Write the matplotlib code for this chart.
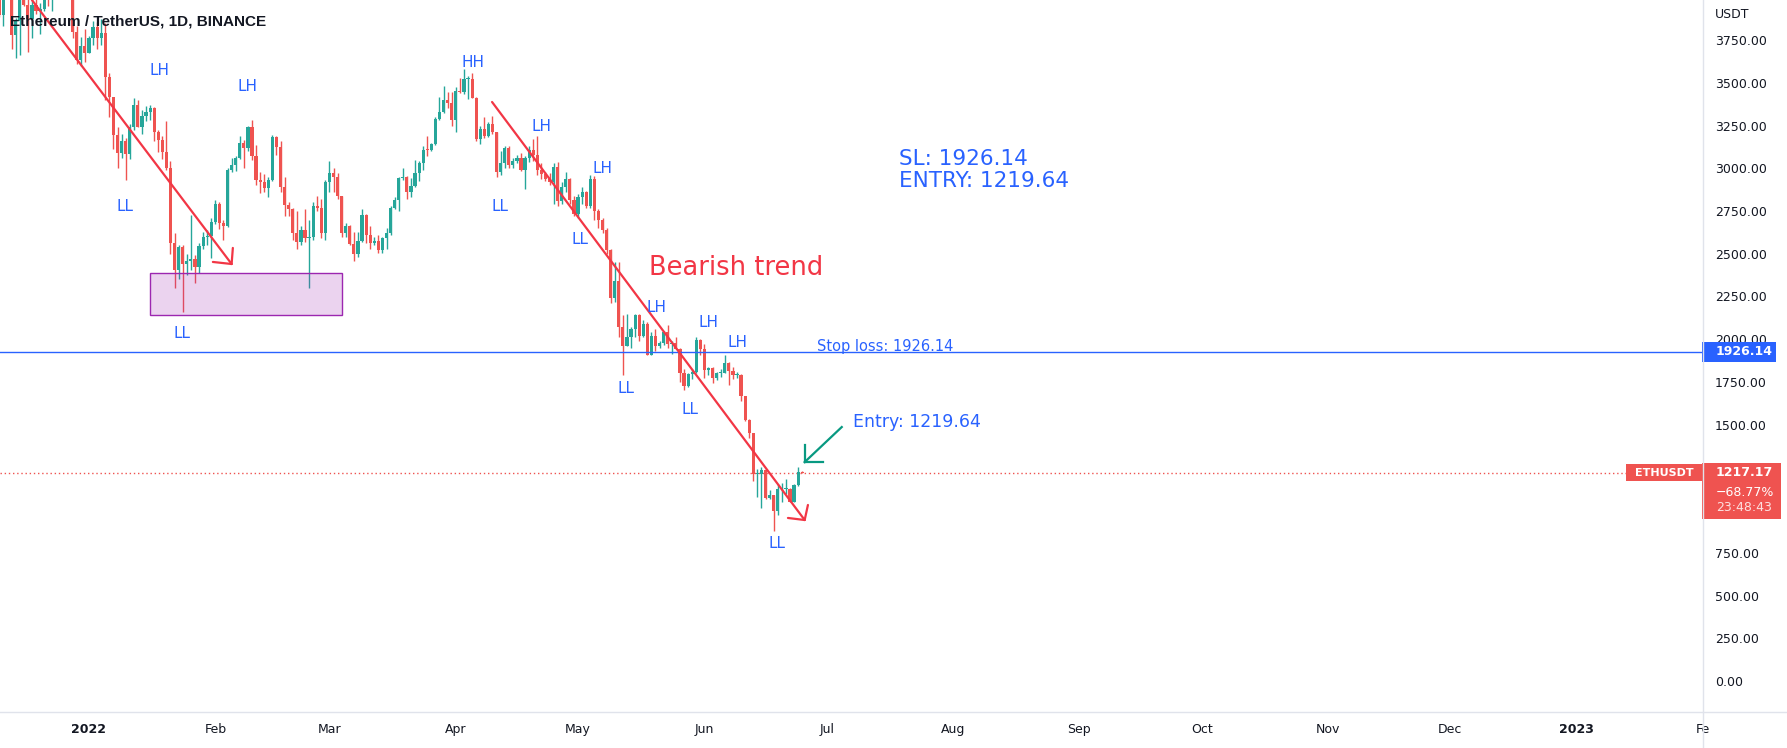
import numpy as np
import pandas as pd
import matplotlib
matplotlib.use('Agg')
import matplotlib.pyplot as plt
import matplotlib.dates as mdates
import matplotlib.transforms as mtransforms
from matplotlib.patches import Rectangle
from matplotlib.lines import Line2D

W, H = 1787, 748
UP = '#26a69a'
DOWN = '#ef5350'
BLUE = '#2962ff'
RED = '#f23645'
GREEN = '#089981'
TEXT = '#131722'
SEP = '#e0e3eb'

# ---- daily ETHUSDT candles, 2021-12-09 .. 2022-06-25 ----
days = pd.date_range('2021-12-09', '2022-06-25', freq='D')

opens = [
    # Dec
    4436, 4110, 3895, 4083, 4130, 3781, 3860, 4016, 3958, 3876, 3955, 3921, 3934, 4020, 3983, 4110, 4045, 4095, 4067, 4040, 3795, 3632, 3713,
    # Jan
    3677, 3765, 3829, 3761, 3794, 3537, 3417, 3193, 3091, 3157, 3083, 3239, 3373, 3243, 3307, 3331, 3352, 3212, 3163, 3095, 3000, 2561, 2407, 2539, 2440, 2456, 2467, 2425, 2546, 2600, 2605,
    # Feb
    2688, 2791, 2678, 2660, 2990, 3021, 3060, 3150, 3120, 3240, 3070, 2930, 2920, 2885, 2930, 3185, 3125, 2890, 2785, 2760, 2620, 2570, 2640, 2590, 2600, 2780, 2770, 2620,
    # Mar
    2920, 2970, 2950, 2835, 2620, 2665, 2555, 2500, 2575, 2725, 2610, 2560, 2575, 2520, 2590, 2620, 2770, 2815, 2945, 2950, 2860, 2895, 2970, 3030, 3110, 3105, 3145, 3290, 3330, 3400, 3385,
    # Apr
    3280, 3455, 3445, 3520, 3520, 3410, 3170, 3230, 3190, 3260, 3210, 2980, 3030, 3120, 3020, 3040, 3060, 2990, 3060, 3105, 3080, 2990, 2965, 2940, 2920, 3010, 2810, 2890, 2940, 2815,
    # May
    2730, 2830, 2860, 2780, 2940, 2750, 2700, 2640, 2520, 2240, 2340, 2070, 1960, 2010, 2060, 2140, 2020, 2090, 1910, 2020, 1960, 1975, 2040, 1970, 1980, 1945, 1800, 1725, 1795, 1810, 1995,
    # Jun
    1940, 1820, 1830, 1775, 1805, 1805, 1860, 1815, 1790, 1790, 1665, 1530, 1450, 1210, 1210, 1235, 1070, 1090, 995, 1125, 1125, 1125, 1050, 1145, 1225,
]
highs = [
    4490, 4220, 4100, 4160, 4140, 3880, 4090, 4109, 3998, 3990, 4030, 3965, 4060, 4050, 4140, 4144, 4130, 4140, 4126, 4050, 3830, 3770, 3815,
    3776, 3860, 3855, 3876, 3850, 3560, 3420, 3240, 3200, 3180, 3260, 3412, 3400, 3340, 3365, 3370, 3357, 3226, 3188, 3275, 3045, 2619, 2550, 2550, 2500, 2724, 2490, 2560, 2625, 2640, 2708,
    2815, 2805, 2700, 3000, 3060, 3070, 3188, 3165, 3245, 3283, 3134, 2978, 2965, 2950, 3195, 3190, 3160, 2950, 2800, 2770, 2750, 2660, 2760, 2700, 2800, 2840, 2820, 2930,
    3040, 3000, 2970, 2840, 2680, 2670, 2630, 2630, 2760, 2730, 2660, 2600, 2610, 2600, 2650, 2780, 2830, 2950, 3000, 2955, 2945, 3050, 3040, 3130, 3190, 3150, 3300, 3420, 3480, 3445, 3445,
    3475, 3530, 3580, 3540, 3555, 3415, 3245, 3300, 3270, 3305, 3215, 3100, 3130, 3130, 3060, 3080, 3090, 3070, 3130, 3170, 3190, 3030, 2980, 2970, 3030, 3035, 2920, 2980, 2945, 2840,
    2850, 2890, 2870, 2960, 2955, 2760, 2710, 2650, 2530, 2450, 2450, 2140, 2145, 2070, 2150, 2145, 2110, 2100, 2040, 2060, 1990, 2050, 2085, 1990, 2015, 1950, 1825, 1805, 1825, 2015, 2000,
    1970, 1840, 1840, 1810, 1825, 1910, 1865, 1835, 1810, 1795, 1670, 1535, 1450, 1240, 1250, 1240, 1120, 1090, 1150, 1160, 1180, 1130, 1150, 1250, 1228,
]
lows = [
    4100, 3886, 3835, 4030, 3700, 3643, 3665, 3950, 3680, 3760, 3900, 3785, 3920, 3950, 3920, 4032, 4030, 4012, 4030, 3760, 3610, 3600, 3622,
    3676, 3722, 3700, 3723, 3400, 3300, 3112, 3000, 3060, 2930, 3057, 3223, 3240, 3200, 3274, 3283, 3157, 3093, 3055, 2992, 2500, 2300, 2350, 2160, 2375, 2403, 2330, 2390, 2530, 2550, 2475,
    2673, 2645, 2580, 2655, 2980, 2985, 3052, 3000, 3100, 3050, 2900, 2858, 2860, 2830, 2925, 3077, 2860, 2720, 2720, 2580, 2525, 2550, 2570, 2300, 2580, 2750, 2590, 2580,
    2860, 2860, 2820, 2600, 2600, 2550, 2460, 2480, 2570, 2560, 2525, 2550, 2505, 2505, 2530, 2610, 2760, 2750, 2930, 2820, 2830, 2890, 2925, 2990, 3070, 3100, 3135, 3285, 3325, 3350, 3250,
    3210, 3440, 3435, 3405, 3410, 3160, 3140, 3180, 3183, 3200, 2950, 2960, 3000, 3000, 3000, 3030, 2985, 2880, 3035, 3040, 2960, 2940, 2925, 2905, 2790, 2780, 2790, 2860, 2790, 2720,
    2710, 2790, 2770, 2770, 2700, 2650, 2620, 2500, 2210, 2220, 2010, 1790, 1960, 1950, 2010, 1990, 2010, 1905, 1905, 1930, 1950, 1965, 1950, 1915, 1940, 1750, 1700, 1720, 1770, 1805, 1910,
    1775, 1790, 1745, 1760, 1780, 1800, 1730, 1770, 1775, 1640, 1520, 1420, 1170, 1075, 1015, 1065, 1065, 880, 970, 1050, 1095, 1050, 1045, 1140, 1215,
]
closes = [
    4110, 3895, 4083, 4130, 3781, 3860, 4016, 3958, 3876, 3955, 3921, 3934, 4020, 3983, 4110, 4045, 4095, 4067, 4040, 3795, 3632, 3713, 3677,
    3765, 3829, 3761, 3794, 3537, 3417, 3193, 3091, 3157, 3083, 3239, 3373, 3243, 3307, 3331, 3352, 3212, 3163, 3095, 3000, 2561, 2407, 2539, 2440, 2456, 2467, 2425, 2546, 2600, 2605, 2688,
    2791, 2678, 2660, 2990, 3021, 3060, 3150, 3120, 3240, 3070, 2930, 2920, 2885, 2930, 3185, 3125, 2890, 2785, 2760, 2620, 2570, 2640, 2590, 2600, 2780, 2770, 2620, 2920,
    2970, 2950, 2835, 2620, 2665, 2555, 2500, 2575, 2725, 2610, 2560, 2575, 2520, 2590, 2620, 2770, 2815, 2945, 2950, 2860, 2895, 2970, 3030, 3110, 3105, 3145, 3290, 3330, 3400, 3385, 3280,
    3455, 3445, 3520, 3520, 3410, 3170, 3230, 3190, 3260, 3210, 2980, 3030, 3120, 3020, 3040, 3060, 2990, 3060, 3105, 3080, 2990, 2965, 2940, 2920, 3010, 2810, 2890, 2940, 2815, 2730,
    2830, 2860, 2780, 2940, 2750, 2700, 2640, 2520, 2240, 2340, 2070, 1960, 2010, 2060, 2140, 2020, 2090, 1910, 2020, 1960, 1975, 2040, 1970, 1980, 1945, 1800, 1725, 1795, 1810, 1995, 1940,
    1820, 1830, 1775, 1805, 1805, 1860, 1815, 1790, 1790, 1665, 1530, 1450, 1210, 1210, 1235, 1070, 1090, 995, 1125, 1125, 1125, 1050, 1145, 1225, 1217.17,
]

stop_loss = 1926.14
last_price = 1217.17
change_text = '\u221268.77%'
timer_text = '23:48:43'

# drawings (days from 2022-01-01, price)
trend_a = [(-14.0, 3985), (35.0, 2440)]
trend_a_barbs = [(30.4, 2452), (35.3, 2534)]
trend_b = [(98.9, 3388), (175.6, 942)]
trend_b_barbs = [(171.5, 954), (176.4, 1030)]
entry_arrow = [(184.7, 1486), (175.6, 1281)]
entry_barbs = [(175.6, 1381), (180.0, 1281)]
zone_days = [14.96, 62.06]
zone_prices = [2142, 2387]
swing_labels = [
    ('LH', 17.2, 3575), ('LH', 39.0, 3476), ('LL', 8.8, 2774), ('LL', 22.8, 2036),
    ('HH', 94.2, 3622), ('LL', 100.8, 2779), ('LH', 111.1, 3242), ('LH', 126.1, 2996),
    ('LL', 120.4, 2586), ('LH', 139.3, 2183), ('LH', 152.1, 2095), ('LH', 159.0, 1978),
    ('LL', 131.7, 1714), ('LL', 147.4, 1586), ('LL', 168.8, 807),
]

month_starts = pd.date_range('2022-01-01', '2023-02-01', freq='MS')
month_labels = ['2022', 'Feb', 'Mar', 'Apr', 'May', 'Jun', 'Jul', 'Aug', 'Sep',
                'Oct', 'Nov', 'Dec', '2023', 'Fe']
price_ticks = np.arange(0, 3751, 250)
hidden_ticks = [1000, 1250]  # covered by the last-price label

# ---- figure ----
fig = plt.figure(figsize=(W / 100, H / 100), dpi=100)
AX_W, AX_H = 1703, 712
ax = fig.add_axes([0, (H - AX_H) / H, AX_W / W, AX_H / H])

jan1 = mdates.date2num(pd.Timestamp('2022-01-01'))
ymin, ymax = -181.4, 3984.8
ax.set_xlim(jan1 - 21.83, mdates.date2num(month_starts[-1]) + 0.01)
ax.set_ylim(ymin, ymax)

x = mdates.date2num(days)
o, h, l, c = map(np.array, (opens, highs, lows, closes))
colors = np.where(c >= o, UP, DOWN)
ax.vlines(x, l, h, colors=colors, lw=1, zorder=2)
ax.bar(x, np.maximum(np.abs(c - o), 6), bottom=np.minimum(o, c), width=0.78,
       color=colors, lw=0, zorder=3)


def pts(seq):
    return [jan1 + d for d, _ in seq], [p for _, p in seq]


# trend lines and arrows
for line, barbs in ((trend_a, trend_a_barbs), (trend_b, trend_b_barbs)):
    ax.plot(*pts(line), color=RED, lw=1.6, zorder=5, solid_capstyle='round')
    tip = line[-1]
    for b in barbs:
        ax.plot(*pts([tip, b]), color=RED, lw=1.6, zorder=5, solid_capstyle='round')
ax.plot(*pts(entry_arrow), color=GREEN, lw=1.6, zorder=5)
for b in entry_barbs:
    ax.plot(*pts([entry_arrow[-1], b]), color=GREEN, lw=1.6, zorder=5)

# demand zone
zone = dict(xy=(jan1 + zone_days[0], zone_prices[0]), width=zone_days[1] - zone_days[0],
            height=zone_prices[1] - zone_prices[0])
ax.add_patch(Rectangle(**zone, facecolor='#9c27b0', alpha=0.2, edgecolor='none', zorder=4))
ax.add_patch(Rectangle(**zone, facecolor='none', edgecolor='#9c27b0', lw=1, zorder=4))

# swing labels
for txt, d, p in swing_labels:
    ax.text(jan1 + d, p, txt, color=BLUE, fontsize=11, ha='center', va='center', zorder=6)

ax.text(jan1 + 137.4, 2417, 'Bearish trend', color=RED, fontsize=18.5, ha='left', va='center')
ax.text(jan1 + 198.7, 2990, 'SL: 1926.14\nENTRY: 1219.64', color=BLUE, fontsize=15.5,
        ha='left', va='center', linespacing=1.15)
ax.text(jan1 + 187.4, 1515, 'Entry: 1219.64', color=BLUE, fontsize=12.5, ha='left', va='center')

# stop loss and last price lines
ax.axhline(stop_loss, color=BLUE, lw=1, zorder=4)
ppu = AX_H / (ymax - ymin)  # pixels per price unit
ax.text(jan1 + 178.6, stop_loss + 1 / ppu, 'Stop loss: 1926.14', color=BLUE, fontsize=10.5,
        ha='left', va='baseline')
ax.axhline(last_price, color=DOWN, lw=1, ls=(0, (1, 2)), zorder=1)

# axes styling
for s in ax.spines.values():
    s.set_visible(False)
ax.set_xticks(mdates.date2num(month_starts), month_labels)
for lbl in ax.get_xticklabels():
    if lbl.get_text() in ('2022', '2023'):
        lbl.set_fontweight('bold')
ax.tick_params(axis='x', length=0, pad=8, labelsize=9, labelcolor=TEXT)
ax.yaxis.tick_right()
ax.set_yticks(price_ticks, ['' if v in hidden_ticks else f'{v:.2f}' for v in price_ticks])
ax.tick_params(axis='y', length=0, pad=8.6, labelsize=9, labelcolor=TEXT)

# price scale labels
side = mtransforms.blended_transform_factory(ax.transAxes, ax.transData)


def fx(px):
    return px / AX_W


ax.add_patch(Rectangle((fx(1702), stop_loss - 10 / ppu), fx(74), 20 / ppu, transform=side,
                       facecolor=BLUE, edgecolor='none', clip_on=False, zorder=10))
ax.text(fx(1716), stop_loss, '1926.14', transform=side, color='white', fontsize=9,
        fontweight='bold', ha='left', va='center', clip_on=False, zorder=11)

ax.add_patch(Rectangle((fx(1702), last_price - 46 / ppu), fx(79), 56 / ppu, transform=side,
                       facecolor=DOWN, edgecolor='none', clip_on=False, zorder=10))
ax.text(fx(1716), last_price, '1217.17', transform=side, color='white', fontsize=9,
        fontweight='bold', ha='left', va='center', clip_on=False, zorder=11)
ax.text(fx(1716), last_price - 20 / ppu, change_text, transform=side, color='white',
        fontsize=9, ha='left', va='center', clip_on=False, zorder=11)
ax.text(fx(1716), last_price - 35 / ppu, timer_text, transform=side, color='#fde0e0',
        fontsize=9, ha='left', va='center', clip_on=False, zorder=11)
ax.add_patch(Rectangle((fx(1626), last_price - 8 / ppu), fx(76), 17 / ppu, transform=side,
                       facecolor=DOWN, edgecolor='none', clip_on=False, zorder=10))
ax.text(fx(1664), last_price, 'ETHUSDT', transform=side, color='white', fontsize=8,
        fontweight='bold', ha='center', va='center', clip_on=False, zorder=11)

# title, unit and panel separators
fig.text(10 / W, 1 - 21 / H, 'Ethereum / TetherUS, 1D, BINANCE', color=TEXT, fontsize=11,
         fontweight='bold', family='Liberation Sans', ha='left', va='center')
fig.text(1715 / W, 1 - 15 / H, 'USDT', color=TEXT, fontsize=9, ha='left', va='center')
fig.add_artist(Line2D([AX_W / W] * 2, [0, 1], transform=fig.transFigure, color=SEP, lw=1))
fig.add_artist(Line2D([0, 1], [(H - AX_H) / H] * 2, transform=fig.transFigure, color=SEP, lw=1))

fig.savefig('out.png', dpi=100)
